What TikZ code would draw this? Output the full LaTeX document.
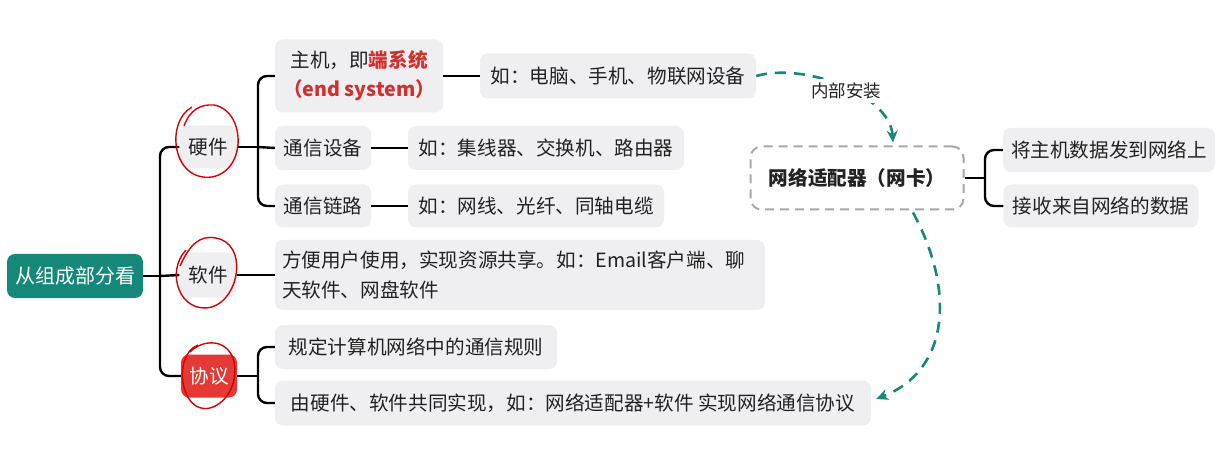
\documentclass[tikz,border=0pt]{standalone}
\usepackage{fontspec}
\setmainfont{Noto Sans CJK SC}
\usetikzlibrary{arrows.meta,calc}
\definecolor{teal1}{HTML}{16887A}
\definecolor{boxgray}{HTML}{EFEEF0}
\definecolor{redbox}{HTML}{E53935}
\definecolor{redtxt}{HTML}{D32F2F}
\definecolor{dashgray}{HTML}{A8A8A8}
\definecolor{txt}{HTML}{222222}
\begin{document}
\begin{tikzpicture}[x=1pt,y=-1pt,
  every node/.style={font=\fontsize{19.6}{26}\selectfont, text=txt},
  item/.style={fill=boxgray, rounded corners=8pt, inner xsep=8pt, inner ysep=9pt, anchor=center},
  conn/.style={draw=black, line width=2.4pt, rounded corners=9pt},
  tealarrow/.style={draw=teal1, line width=2.6pt, dash pattern=on 11pt off 8pt, -{Stealth[length=12pt,width=11pt]}},
  handcircle/.style={draw=red!85!black, line width=1.4pt}
]
\useasboundingbox (0,0) rectangle (1231,462);
\fill[white] (0,0) rectangle (1231,462);

% root
\node[fill=teal1, rounded corners=8pt, text=white, minimum width=136pt, minimum height=44pt, font=\fontsize{20}{26}\selectfont] (root) at (75,276) {从组成部分看};

% level 1
\node[item, minimum width=57pt, minimum height=43pt, inner xsep=4pt] (hw) at (208,147) {硬件};
\node[item, minimum width=57pt, minimum height=45pt, inner xsep=4pt] (sw) at (208,275) {软件};
\node[fill=redbox, rounded corners=8pt, text=white, minimum width=56pt, minimum height=43pt, inner xsep=4pt] (pr) at (209,376) {协议};

% hardware children
\node[item, minimum width=168pt, minimum height=73pt, align=center] (host) at (359,76) {主机，即{\color{redtxt}\bfseries 端系统}\\[3pt]{\color{redtxt}\bfseries（end system）}};
\node[item, minimum width=96pt, minimum height=44pt] (dev) at (323,148) {通信设备};
\node[item, minimum width=96pt, minimum height=43pt] (link) at (323,206) {通信链路};
\node[item, minimum width=276pt, minimum height=45pt] (hostex) at (618,76) {如：电脑、手机、物联网设备};
\node[item, minimum width=276pt, minimum height=44pt] (devex) at (546,148) {如：集线器、交换机、路由器};
\node[item, minimum width=256pt, minimum height=43pt] (linkex) at (536,206) {如：网线、光纤、同轴电缆};

% software child
\node[item, text width=476pt, minimum height=70pt, inner xsep=7pt, align=left] (swex) at (520,275) {方便用户使用，实现资源共享。如：Email客户端、聊\\[4pt]天软件、网盘软件};

% protocol children
\node[item, minimum width=282pt, minimum height=44pt] (pr1) at (416,347) {规定计算机网络中的通信规则};
\node[item, minimum width=596pt, minimum height=45pt] (pr2) at (573,403) {由硬件、软件共同实现，如：网络适配器+软件 实现网络通信协议};

% NIC
\node[draw=dashgray, line width=2pt, dash pattern=on 9pt off 6pt, rounded corners=11pt, fill=white, minimum width=213pt, minimum height=63pt, font=\fontsize{19.6}{26}\selectfont\bfseries] (nic) at (857,178) {网络适配器（网卡）};
\node[item, minimum width=212pt, minimum height=44pt] (nic1) at (1109,150) {将主机数据发到网络上};
\node[item, minimum width=195pt, minimum height=43pt] (nic2) at (1101,206) {接收来自网络的数据};

% connectors root
\coordinate (j0) at (160,276);
\draw[conn] (root.east) -- (j0);
\draw[conn] (j0) |- (hw.west);
\draw[conn] (j0) -- (sw.west);
\draw[conn] (j0) |- (pr.west);

% hardware
\coordinate (j1) at (258,147);
\draw[conn] (hw.east) -- (j1);
\draw[conn] (j1) |- (host.west);
\draw[conn] (j1) -- (dev.west);
\draw[conn] (j1) |- (link.west);
\draw[conn] (host.east) -- (hostex.west);
\draw[conn] (dev.east) -- (devex.west);
\draw[conn] (link.east) -- (linkex.west);

% software
\draw[conn] (sw.east) -- (swex.west);

% protocol
\coordinate (j2) at (258,376);
\draw[conn] (pr.east) -- (j2);
\draw[conn] (j2) |- (pr1.west);
\draw[conn] (j2) |- (pr2.west);

% nic
\coordinate (j3) at (985,178);
\draw[conn] (nic.east) -- (j3);
\draw[conn] (j3) |- (nic1.west);
\draw[conn] (j3) |- (nic2.west);

% teal dashed arrows
\draw[tealarrow] (hostex.east) .. controls (805,62) and (890,95) .. ($(nic.north)+(36,-3)$);
\node[fill=white, inner sep=4pt, font=\fontsize{17.5}{20}\selectfont] (lbl) at (846,91) {内部安装};
\draw[tealarrow] ($(nic.south)+(56,2)$) .. controls (955,290) and (950,370) .. ($(pr2.east)+(5,-4)$);

% hand-drawn red circles
\draw[handcircle] (192,107) .. controls (165,122) and (172,182) .. (212,177)
  .. controls (248,170) and (245,110) .. (214,105) .. controls (200,104) and (190,110) .. (184,126);
\draw[handcircle] (186,250) .. controls (165,272) and (180,315) .. (212,307)
  .. controls (240,298) and (248,244) .. (216,238) .. controls (200,235) and (190,244) .. (180,266);
\draw[handcircle] (198,345) .. controls (172,355) and (180,415) .. (210,408)
  .. controls (240,400) and (245,346) .. (214,343) .. controls (205,342) and (196,346) .. (190,352);
\end{tikzpicture}
\end{document}
